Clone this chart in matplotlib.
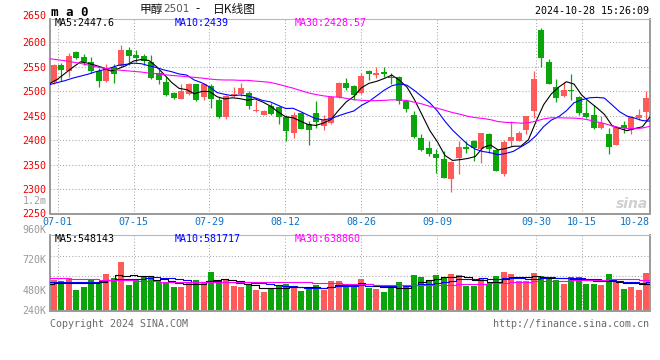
import numpy as np
import matplotlib.pyplot as plt

# 甲醇2501 日K线 (06-28 ~ 10-28), 80根
open_ = [2520, 2554, 2541, 2580, 2570, 2561, 2541, 2522, 2549, 2551,
         2584, 2574, 2573, 2561, 2537, 2519, 2497, 2485, 2495, 2515,
         2488, 2510, 2483, 2448, 2492, 2495, 2497, 2459, 2452, 2469,
         2467, 2447, 2414, 2455, 2433, 2455, 2429, 2435, 2489, 2517,
         2510, 2497, 2541, 2534, 2539, 2530, 2529, 2481, 2452, 2405,
         2384, 2372, 2362, 2320, 2363, 2386, 2398, 2383, 2412, 2380,
         2330, 2398, 2399, 2420, 2459, 2625, 2561, 2509, 2491, 2503,
         2488, 2456, 2451, 2424, 2412, 2391, 2431, 2420, 2446, 2458]
high = [2555, 2558, 2578, 2582, 2576, 2571, 2548, 2556, 2556, 2595,
        2590, 2584, 2577, 2574, 2544, 2529, 2499, 2514, 2518, 2516,
        2517, 2515, 2488, 2493, 2509, 2518, 2501, 2483, 2461, 2476,
        2469, 2452, 2457, 2457, 2439, 2480, 2452, 2491, 2520, 2527,
        2512, 2537, 2544, 2550, 2549, 2537, 2531, 2483, 2459, 2413,
        2399, 2381, 2378, 2357, 2398, 2399, 2401, 2415, 2415, 2382,
        2401, 2439, 2418, 2450, 2542, 2629, 2566, 2525, 2520, 2535,
        2490, 2483, 2472, 2450, 2424, 2427, 2440, 2450, 2463, 2501]
low = [2516, 2522, 2530, 2567, 2554, 2537, 2509, 2520, 2518, 2549,
       2554, 2561, 2554, 2526, 2514, 2490, 2485, 2484, 2492, 2481,
       2483, 2465, 2446, 2444, 2489, 2491, 2463, 2457, 2452, 2452,
       2433, 2399, 2405, 2422, 2391, 2425, 2421, 2433, 2486, 2503,
       2483, 2495, 2523, 2527, 2529, 2515, 2474, 2457, 2404, 2378,
       2367, 2333, 2322, 2295, 2330, 2374, 2357, 2353, 2374, 2336,
       2327, 2388, 2398, 2412, 2446, 2549, 2514, 2478, 2488, 2482,
       2452, 2446, 2422, 2422, 2372, 2390, 2415, 2412, 2442, 2439]
close = [2554, 2544, 2573, 2569, 2561, 2541, 2522, 2548, 2536, 2585,
         2572, 2569, 2563, 2527, 2524, 2492, 2486, 2501, 2514, 2483,
         2515, 2485, 2448, 2491, 2495, 2506, 2469, 2462, 2459, 2454,
         2447, 2418, 2452, 2423, 2420, 2438, 2442, 2489, 2517, 2506,
         2493, 2531, 2535, 2537, 2535, 2528, 2480, 2463, 2407, 2379,
         2371, 2364, 2323, 2356, 2387, 2383, 2384, 2414, 2383, 2337,
         2397, 2407, 2415, 2449, 2525, 2568, 2516, 2486, 2503, 2501,
         2456, 2448, 2424, 2435, 2386, 2427, 2425, 2447, 2452, 2487]

ma5 = [2516, 2525, 2537, 2549, 2560.2, 2557.6, 2553.2, 2548.2, 2541.6, 2546.4,
       2552.6, 2562, 2565, 2563.2, 2551, 2535, 2518.4, 2506, 2503.4, 2495.2,
       2499.8, 2499.6, 2489, 2484.4, 2486.8, 2485, 2481.8, 2484.6, 2478.2, 2470,
       2458.2, 2448, 2446, 2438.8, 2432, 2430.2, 2435, 2442.4, 2461.2, 2478.4,
       2489.4, 2507.2, 2516.4, 2520.4, 2526.2, 2533.2, 2523, 2508.6, 2482.6, 2451.4,
       2420, 2396.8, 2368.8, 2358.6, 2360.2, 2362.6, 2366.6, 2384.8, 2390.2, 2380.2,
       2383, 2387.6, 2387.8, 2401, 2438.6, 2472.8, 2494.6, 2508.8, 2519.6, 2514.8,
       2492.4, 2478.8, 2466.4, 2452.8, 2429.8, 2424, 2419.4, 2424, 2427.4, 2447.6]
ma10 = [2514, 2518, 2522, 2527, 2531, 2535, 2540, 2544, 2548, 2553.3,
        2555.1, 2557.6, 2556.6, 2552.4, 2548.7, 2543.8, 2540.2, 2535.5, 2533.3, 2523.1,
        2517.4, 2509, 2497.5, 2493.9, 2491, 2492.4, 2490.7, 2486.8, 2481.3, 2478.4,
        2471.6, 2464.9, 2465.3, 2458.5, 2451, 2444.2, 2441.5, 2444.2, 2450, 2455.2,
        2459.8, 2471.1, 2479.4, 2490.8, 2502.3, 2511.3, 2515.1, 2512.5, 2501.5, 2488.8,
        2476.6, 2459.9, 2438.7, 2420.6, 2405.8, 2391.3, 2381.7, 2376.8, 2374.4, 2370.2,
        2372.8, 2377.1, 2386.3, 2395.6, 2409.4, 2427.9, 2441.1, 2448.3, 2460.3, 2476.7,
        2482.6, 2486.7, 2487.6, 2486.2, 2472.3, 2458.2, 2449.1, 2445.2, 2440.1, 2439]
ma30 = [2566.7, 2564.6, 2562.6, 2559.9, 2557.2, 2553.8, 2550.4, 2547.6, 2545.6, 2543.6,
        2542.2, 2540.8, 2539.5, 2537.4, 2536, 2534, 2532.6, 2531.3, 2530, 2528.6,
        2527.2, 2525.2, 2523.8, 2523.2, 2523.2, 2522.5, 2522.5, 2521, 2519.8, 2518.3,
        2514.7, 2510.5, 2506.5, 2501.6, 2496.9, 2493.5, 2490.8, 2488.8, 2488.2, 2485.6,
        2482.9, 2481.7, 2480.7, 2481.1, 2481.4, 2482.6, 2482.4, 2481.2, 2477.6, 2474.1,
        2469.3, 2465.3, 2461.1, 2456.6, 2453, 2448.9, 2446.1, 2444.5, 2442, 2438.1,
        2436.4, 2436, 2434.8, 2435.7, 2439.2, 2443.5, 2446, 2445.9, 2445.4, 2445.2,
        2444, 2441.2, 2437.5, 2434.1, 2429.2, 2425.8, 2424, 2423.4, 2424.9, 2428.57]

# 成交量 (千手)
volume = [632, 612, 680, 428, 496, 653, 598, 755, 680, 1006,
          530, 653, 687, 721, 598, 585, 490, 490, 564, 632,
          585, 796, 585, 653, 510, 490, 544, 428, 388, 476,
          510, 558, 496, 408, 442, 530, 428, 612, 612, 510,
          510, 653, 476, 449, 388, 476, 592, 490, 734, 694,
          632, 734, 680, 755, 734, 517, 517, 680, 544, 721,
          796, 762, 612, 612, 775, 721, 646, 632, 551, 694,
          694, 551, 551, 530, 755, 598, 449, 490, 428, 775]
vol_ma5 = [558, 564, 578, 564, 569.6, 573.8, 571, 586, 636.4, 738.4,
           713.8, 724.8, 711.2, 719.4, 637.8, 648.8, 616.2, 576.8, 545.4, 552.2,
           552.2, 613.4, 632.4, 650.2, 625.8, 606.8, 556.4, 525, 472, 465.2,
           469.2, 472, 485.6, 489.6, 482.8, 486.8, 460.8, 484, 524.8, 538.4,
           534.4, 579.4, 552.2, 519.6, 495.2, 488.4, 476.2, 479, 536, 597.2,
           628.4, 656.8, 694.8, 699, 707, 684, 640.6, 640.6, 598.4, 595.8,
           651.6, 700.6, 687, 700.6, 711.4, 696.4, 673.2, 677.2, 665, 648.8,
           643.4, 624.4, 608.2, 604, 616.2, 597, 576.6, 564.4, 544, 548.143]
vol_ma10 = [590, 590, 590, 590, 592, 595, 598, 605, 625, 654,
            643.8, 647.9, 648.6, 677.9, 688.1, 681.3, 670.5, 644, 632.4, 595,
            600.5, 614.8, 604.6, 597.8, 589, 579.5, 584.9, 578.7, 561.1, 545.5,
            538, 514.2, 505.3, 480.8, 474, 478, 466.4, 484.8, 507.2, 510.6,
            510.6, 520.1, 518.1, 522.2, 516.8, 511.4, 527.8, 515.6, 527.8, 546.2,
            558.4, 566.5, 586.9, 617.5, 652.1, 656.2, 648.7, 667.7, 648.7, 651.4,
            667.8, 670.6, 663.8, 649.5, 653.6, 674, 686.9, 682.1, 682.8, 680.1,
            669.9, 648.8, 642.7, 634.5, 632.5, 620.2, 600.5, 586.3, 574, 581.717]
vol_ma30 = [678, 672, 665, 658, 658, 651, 644, 638, 631, 624,
            624, 624, 617, 610, 604, 597, 597, 597, 597, 597,
            597, 597, 596, 596, 596, 596, 597, 597, 598, 598.2,
            594.1, 592.3, 586.2, 585.5, 583.7, 579.6, 573.9, 569.2, 566.9, 550.4,
            549.7, 549.7, 542.7, 533.6, 526.6, 523, 526.4, 526.4, 532, 534.1,
            535.7, 533.6, 536.8, 540.2, 547.6, 548.5, 547.6, 556, 561.2, 569.4,
            578.9, 585.7, 589.6, 596.4, 607.5, 613.9, 621.1, 621.8, 619.8, 625.9,
            632, 628.6, 631.1, 633.8, 646.1, 650.1, 645.4, 645.4, 635.2, 638.86]

tick_idx = [1, 11, 21, 31, 41, 51, 64, 70, 79]
tick_labels = ['07-01', '07-15', '07-29', '08-12', '08-26', '09-09', '09-30', '10-15', '10-28']
price_ticks = [2250, 2300, 2350, 2400, 2450, 2500, 2550, 2600]
vol_labels = ['960K', '720K', '480K', '240K']

RED = '#ff5a5a'
GREEN = '#0aa50a'
GRID = '#a8a8a8'
MONO = 'DejaVu Sans Mono'
CJK = ['Noto Sans CJK SC', 'DejaVu Sans']
FS = 7.2

W, H = 660, 360
fig = plt.figure(figsize=(W / 100, H / 100), dpi=100)
fig.patch.set_facecolor('white')


def fpos(x, y):
    return x / W, 1 - y / H


def ftext(x, y, s, **kw):
    kw.setdefault('family', MONO)
    kw.setdefault('fontsize', FS)
    kw.setdefault('va', 'center')
    return fig.text(*fpos(x, y), s, **kw)


ax = fig.add_axes([50 / W, 1 - 213.5 / H, 600 / W, (213.5 - 19) / H])
axv = fig.add_axes([50 / W, 1 - 311 / H, 600 / W, 76 / H])

n = len(close)
x = np.arange(n)
o = np.array(open_)
c = np.array(close)
col = np.where(c >= o, RED, GREEN)
# 均线和网格按 79 等分铺满整个宽度
line_x = np.arange(n) * n / (n - 1) - 0.5
grid_x = np.array(tick_idx) * n / (n - 1) - 0.5

# K线
ax.vlines(x, low, high, colors=col, linewidth=0.9, zorder=2)
ax.bar(x, np.maximum(np.abs(c - o), 1.2), bottom=np.minimum(o, c), width=0.8,
       color=col, linewidth=0, zorder=3)
ax.plot(line_x, ma5, color='black', lw=0.8, zorder=4)
ax.plot(line_x, ma10, color='#0000ff', lw=0.8, zorder=4)
ax.plot(line_x, ma30, color='#ff00ff', lw=0.8, zorder=4)

ax.set_xlim(-0.5, n - 0.5)
ax.set_ylim(2250, 2648)
ax.set_xticks(grid_x)
ax.set_xticklabels(tick_labels, family=MONO, fontsize=FS, color='#0a72c6')
ax.get_xticklabels()[-1].set_ha('right')
ax.set_yticks(price_ticks)
ax.set_yticklabels([str(v) for v in price_ticks], family=MONO, fontsize=FS, color='#ee0000')
ax.tick_params(length=0, pad=2.5)
ax.grid(True, color=GRID, linestyle=(0, (1, 2)), linewidth=0.75)
ax.set_axisbelow(True)

# 成交量
axv.bar(x, volume, width=0.86, color=col, linewidth=0, zorder=2)
axv.plot(line_x, vol_ma5, color='black', lw=0.8, drawstyle='steps-mid', zorder=3)
axv.plot(line_x, vol_ma10, color='#0000ff', lw=0.8, drawstyle='steps-mid', zorder=3)
axv.plot(line_x, vol_ma30, color='#ff00ff', lw=0.8, drawstyle='steps-mid', zorder=3)
axv.set_xlim(-0.5, n - 0.5)
axv.set_ylim(0, 1550)
axv.set_xticks(grid_x)
axv.set_yticks([312.8, 720.8, 1128.8])
axv.tick_params(length=0, labelbottom=False, labelleft=False)
axv.grid(True, color=GRID, linestyle=(0, (1, 2)), linewidth=0.75)
axv.set_axisbelow(True)

for a in (ax, axv):
    for s in a.spines.values():
        s.set_color('#9a9a9a')
        s.set_linewidth(1.4)
    a.spines['top'].set_linewidth(0.8)
    a.spines['top'].set_color('#b8b8b8')

# 文字
ftext(51, 12, 'm a 0', fontweight='bold', fontsize=9)
ftext(140, 9, '甲醇', fontsize=8.5, family=CJK, color='#111111')
ftext(163, 9.5, '2501', fontsize=7.5, family='DejaVu Sans', color='#555555')
ftext(195, 9, '-', fontsize=8.5, family=CJK, color='#111111')
ftext(213, 9, '日K线图', fontsize=8.5, family=CJK, color='#111111')
ftext(649, 11.5, '2024-10-28 15:26:09', ha='right')
ftext(46.5, 16, '2650', ha='right', color='#ee0000')
ftext(46.5, 201, '1.2m', ha='right', color='#a0a0a0')

ftext(55, 23.5, 'MA5:%.1f' % ma5[-1], color='black')
ftext(175, 23.5, 'MA10:%g' % round(ma10[-1]), color='#0000ff')
ftext(295, 23.5, 'MA30:%.2f' % ma30[-1], color='#ff00ff')

ftext(55, 238.5, 'MA5:%d' % round(vol_ma5[-1] * 1000), color='black')
ftext(175, 238.5, 'MA10:%d' % round(vol_ma10[-1] * 1000), color='#0000ff')
ftext(295, 238.5, 'MA30:%d' % round(vol_ma30[-1] * 1000), color='#ff00ff')

for lab, yy in zip(vol_labels, [230, 260, 291, 311]):
    ftext(46.5, yy, lab, ha='right', color='#9a9a9a')

ftext(50, 324, 'Copyright 2024 SINA.COM', color='#6a6a6a')
ftext(649, 324, 'http://finance.sina.com.cn', ha='right', color='#6a6a6a')

# 水印
ftext(648, 204, 'sina', ha='right', family='DejaVu Sans', fontsize=10,
      fontweight='bold', style='italic', color='#cfcfcf')

fig.savefig('out.png', dpi=100, facecolor='white')
